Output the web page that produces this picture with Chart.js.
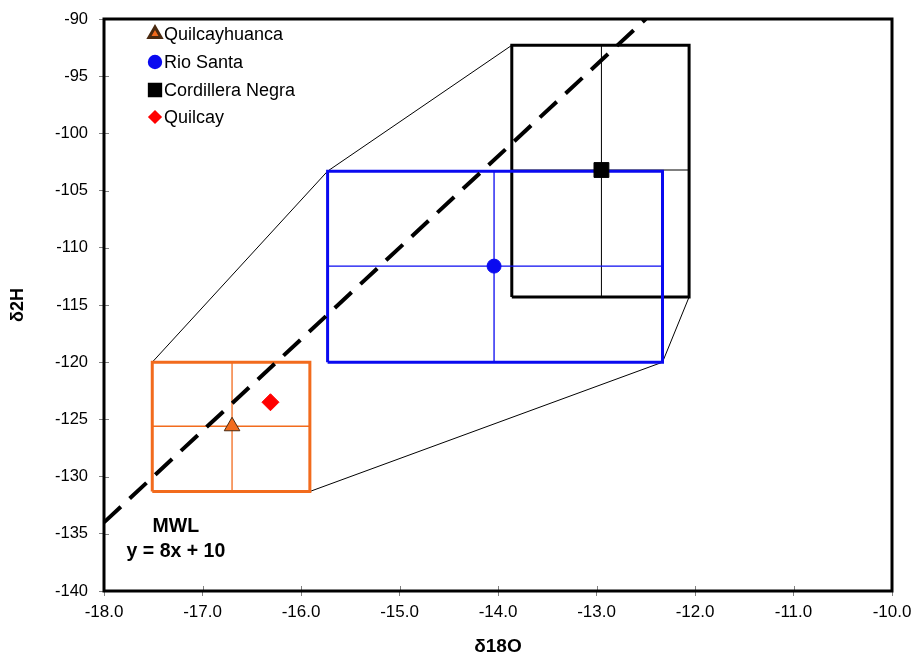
<!DOCTYPE html>
<html>
<head>
<meta charset="utf-8">
<title>d18O vs d2H</title>
<script src="https://cdn.jsdelivr.net/npm/chart.js@4.4.1/dist/chart.umd.min.js"></script>
<style>
    html, body { margin: 0; padding: 0; background: #ffffff; }
    canvas { display: block; }
</style>
</head>
<body>
<canvas id="isotopeChart" width="914" height="662"></canvas>
<script>
// mean values for each group
const seriesNames = ['Quilcayhuanca', 'Rio Santa', 'Cordillera Negra', 'Quilcay'];
const meanD18O = [-16.70, -14.04, -12.95, -16.31];
const meanD2H = [-125.6, -111.6, -103.2, -123.5];

// min/max range boxes (first three groups only)
const boxNames = ['Quilcayhuanca', 'Rio Santa', 'Cordillera Negra'];
const boxMinD18O = [-17.51, -15.73, -13.86];
const boxMaxD18O = [-15.91, -12.33, -12.06];
const boxMinD2H = [-131.3, -120.0, -114.3];
const boxMaxD2H = [-120.0, -103.3, -92.3];

// meteoric water line, end points
const mwlD18O = [-18.0, -12.5];
const mwlD2H = [-134.0, -90.0];

// axis ticks
const xTickValues = [-18, -17, -16, -15, -14, -13, -12, -11, -10];
const yTickValues = [-140, -135, -130, -125, -120, -115, -110, -105, -100, -95, -90];

// styles
const markerStyles = ['triangle', 'circle', 'rect', 'rectRot'];
const markerRadius = [9, 7, 10.5, 8.5];
const legendRadius = [7, 5.7, 8, 5];
const markerFill = ['#F26B1D', '#0A0AF0', '#000000', '#FF0000'];
const markerEdge = ['#4a2a10', '#0A0AF0', '#000000', '#FF0000'];
const boxColors = ['#F26B1D', '#0A0AF0', '#000000'];
const crossWidths = [1.3, 1.3, 1];

const FONT = "'Liberation Sans', Arial, sans-serif";

const datasets = [];

// points go first so they are drawn on top
seriesNames.forEach((name, i) => {
    datasets.push({
        label: name,
        data: [{ x: meanD18O[i], y: meanD2H[i] }],
        pointStyle: markerStyles[i],
        pointRadius: markerRadius[i],
        backgroundColor: markerFill[i],
        borderColor: markerEdge[i],
        borderWidth: 1,
        showLine: false,
        isMarker: true,
        legendIndex: i
    });
});

// MWL dashed line
datasets.push({
    label: 'MWL',
    data: mwlD18O.map((x, i) => ({ x: x, y: mwlD2H[i] })),
    showLine: true,
    borderColor: '#000000',
    borderWidth: 4,
    borderDash: [23, 12],
    borderCapStyle: 'butt',
    pointRadius: 0
});

// boxes and crosses
boxNames.forEach((name, i) => {
    const x0 = boxMinD18O[i], x1 = boxMaxD18O[i];
    const y0 = boxMinD2H[i], y1 = boxMaxD2H[i];
    const common = { showLine: true, pointRadius: 0, borderColor: boxColors[i], fill: false };
    datasets.push(Object.assign({
        label: name + ' range',
        data: [{ x: x0, y: y0 }, { x: x0, y: y1 }, { x: x1, y: y1 }, { x: x1, y: y0 }, { x: x0, y: y0 }],
        borderWidth: 3,
        borderJoinStyle: 'miter'
    }, common));
    datasets.push(Object.assign({
        label: name + ' h',
        data: [{ x: x0, y: meanD2H[i] }, { x: x1, y: meanD2H[i] }],
        borderWidth: crossWidths[i]
    }, common));
    datasets.push(Object.assign({
        label: name + ' v',
        data: [{ x: meanD18O[i], y: y0 }, { x: meanD18O[i], y: y1 }],
        borderWidth: crossWidths[i]
    }, common));
});

// envelope lines linking the boxes
datasets.push({
    label: 'upper',
    data: boxNames.map((n, i) => ({ x: boxMinD18O[i], y: boxMaxD2H[i] })),
    showLine: true, pointRadius: 0, borderColor: '#000000', borderWidth: 1
});
datasets.push({
    label: 'lower',
    data: boxNames.map((n, i) => ({ x: boxMaxD18O[i], y: boxMinD2H[i] })).reverse(),
    showLine: true, pointRadius: 0, borderColor: '#000000', borderWidth: 1
});

// frame, inner tick marks, legend and MWL label
const decorPlugin = {
    id: 'decor',
    afterDraw(chart) {
        const { ctx, chartArea: a, scales: { x, y } } = chart;
        ctx.save();

        // inner half of the cross ticks
        ctx.strokeStyle = '#808080';
        ctx.lineWidth = 1;
        ctx.beginPath();
        xTickValues.forEach(v => {
            const px = Math.round(x.getPixelForValue(v)) + 0.5;
            ctx.moveTo(px, a.bottom);
            ctx.lineTo(px, a.bottom - 5);
        });
        yTickValues.forEach(v => {
            const py = Math.round(y.getPixelForValue(v)) + 0.5;
            ctx.moveTo(a.left, py);
            ctx.lineTo(a.left + 5, py);
        });
        ctx.stroke();

        // plot frame
        ctx.strokeStyle = '#000000';
        ctx.lineWidth = 3;
        ctx.strokeRect(a.left, a.top, a.right - a.left, a.bottom - a.top);

        // legend
        const rowY = [34, 62, 90, 117];
        ctx.font = '18px ' + FONT;
        ctx.textBaseline = 'middle';
        ctx.textAlign = 'left';
        chart.data.datasets.filter(d => d.isMarker).forEach(d => {
            const i = d.legendIndex;
            ctx.fillStyle = markerFill[i];
            ctx.strokeStyle = markerEdge[i];
            Chart.helpers.drawPoint(ctx, {
                pointStyle: markerStyles[i],
                radius: legendRadius[i],
                rotation: 0,
                borderWidth: 1
            }, 155, rowY[i]);
            ctx.fillStyle = '#000000';
            ctx.fillText(d.label, 164, rowY[i] + 1);
        });

        // MWL label
        ctx.font = 'bold 19.5px ' + FONT;
        ctx.textAlign = 'center';
        ctx.fillStyle = '#000000';
        const lx = x.getPixelForValue(-17.27);
        ctx.fillText('MWL', lx, y.getPixelForValue(-134.4));
        ctx.fillText('y = 8x + 10', lx, y.getPixelForValue(-136.6));

        ctx.restore();
    }
};

new Chart(document.getElementById('isotopeChart').getContext('2d'), {
    type: 'scatter',
    data: { datasets: datasets },
    options: {
        responsive: false,
        animation: false,
        layout: { padding: { left: 0, top: 19, right: 22, bottom: 0 } },
        plugins: {
            legend: { display: false },
            tooltip: { enabled: false }
        },
        elements: { line: { tension: 0 } },
        scales: {
            x: {
                type: 'linear',
                min: -18,
                max: -10,
                afterBuildTicks: s => { s.ticks = xTickValues.map(v => ({ value: v })); },
                afterFit: s => { s.height = 71; s.paddingLeft = 0; s.paddingRight = 0; },
                border: { display: false },
                grid: { drawOnChartArea: false, drawTicks: true, tickLength: 5, tickColor: '#808080' },
                ticks: {
                    color: '#000000',
                    padding: 6,
                    font: { family: FONT, size: 17 },
                    callback: v => v.toFixed(1)
                },
                title: {
                    display: true,
                    text: 'δ18O',
                    color: '#000000',
                    font: { family: FONT, size: 19, weight: 'bold' },
                    padding: { top: 0, bottom: 4 }
                }
            },
            y: {
                type: 'linear',
                min: -140,
                max: -90,
                afterBuildTicks: s => { s.ticks = yTickValues.map(v => ({ value: v })); },
                afterFit: s => { s.width = 104; s.paddingTop = 0; s.paddingBottom = 0; },
                border: { display: false },
                grid: { drawOnChartArea: false, drawTicks: true, tickLength: 5, tickColor: '#808080' },
                ticks: {
                    color: '#000000',
                    padding: 11,
                    font: { family: FONT, size: 16.5 },
                    callback: v => String(v)
                },
                title: {
                    display: true,
                    text: 'δ2H',
                    color: '#000000',
                    font: { family: FONT, size: 18, weight: 'bold' },
                    padding: { top: 7, bottom: 0 }
                }
            }
        }
    },
    plugins: [decorPlugin]
});
</script>
</body>
</html>
